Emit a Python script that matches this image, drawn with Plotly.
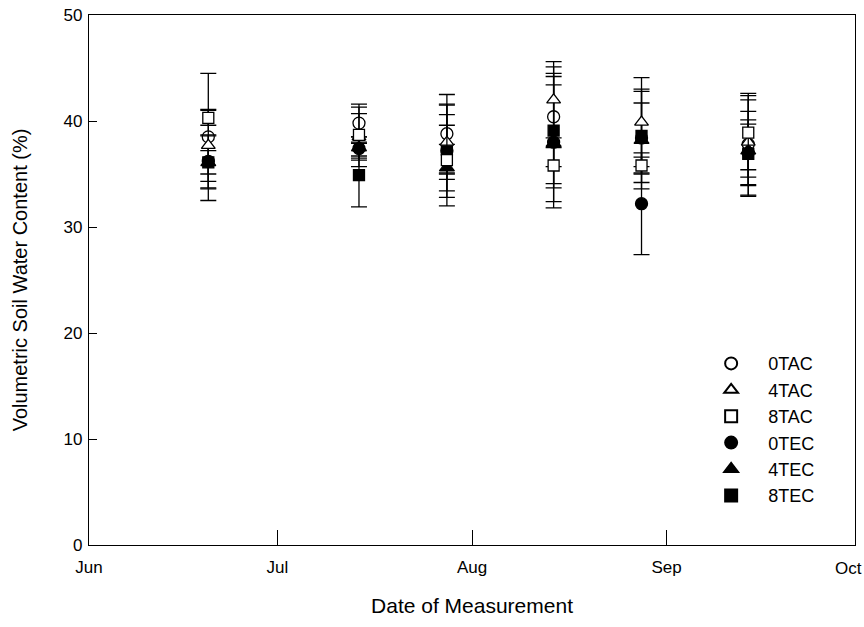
import plotly.graph_objects as go

dates = ["2000-06-20", "2000-07-14", "2000-07-28", "2000-08-14", "2000-08-28", "2000-09-14"]

series_names = ["0TAC", "4TAC", "8TAC", "0TEC", "4TEC", "8TEC"]
month_ticks = ["2000-06-01", "2000-07-01", "2000-08-01", "2000-09-01", "2000-10-01"]
month_labels = ["Jun", "Jul", "Aug", "Sep", "Oct"]

tac0_mean = [38.5, 39.8, 38.8, 40.4, 38.4, 37.8]
tac0_sd = [6.0, 1.8, 3.7, 4.7, 3.3, 4.8]
tac4_mean = [37.7, 38.5, 38.0, 42.0, 39.9, 38.0]
tac4_sd = [3.4, 2.8, 3.5, 3.6, 4.2, 4.0]
tac8_mean = [40.3, 38.7, 36.3, 35.8, 35.8, 38.9]
tac8_sd = [0.7, 2.0, 4.3, 1.7, 0.8, 3.5]
tec0_mean = [36.2, 37.4, 37.2, 38.0, 32.2, 37.0]
tec0_sd = [2.5, 1.1, 4.4, 6.2, 4.8, 3.1]
tec4_mean = [36.1, 37.5, 35.6, 37.9, 38.2, 37.2]
tec4_sd = [2.5, 1.0, 2.2, 5.5, 4.6, 2.5]
tec8_mean = [36.1, 34.9, 37.3, 39.1, 38.6, 36.9]
tec8_sd = [1.1, 3.0, 2.3, 5.4, 4.4, 4.0]

means = [tac0_mean, tac4_mean, tac8_mean, tec0_mean, tec4_mean, tec8_mean]
sds = [tac0_sd, tac4_sd, tac8_sd, tec0_sd, tec4_sd, tec8_sd]
symbols = ["circle", "triangle-up", "square", "circle", "triangle-up", "square"]
fills = ["white", "white", "white", "black", "black", "black"]
sizes = [12, 12, 11, 12, 13, 11]

# stacking order of the series (last drawn on top)
draw_order = [0, 3, 4, 5, 1, 2]

fig = go.Figure()
for i in draw_order:
    fig.add_trace(go.Scatter(
        x=dates, y=means[i], name=series_names[i], mode="markers",
        legendrank=i + 1,
        marker=dict(symbol=symbols[i], size=sizes[i], color=fills[i],
                    line=dict(color="black", width=1.3)),
        error_y=dict(type="data", array=sds[i], visible=True, color="black",
                     thickness=1.3, width=8),
    ))

font_family = "Liberation Sans, Arial, sans-serif"

# last month label sits at the right edge of the page: place it as an
# annotation nudged left so it stays inside the picture
tick_text_axis = month_labels[:-1] + [""]
fig.add_annotation(
    x=month_ticks[-1], xref="x", y=0, yref="paper",
    text=month_labels[-1], showarrow=False,
    xanchor="center", yanchor="top", xshift=-7, yshift=-12,
    font=dict(size=17, family=font_family, color="black"),
)

fig.update_layout(
    width=864, height=627,
    margin=dict(l=89, r=9, t=15, b=82),
    paper_bgcolor="white", plot_bgcolor="white",
    font=dict(family=font_family, color="black", size=16),
    showlegend=True,
    legend=dict(x=0.790, y=0.377, xanchor="left", yanchor="top",
                font=dict(size=18, family=font_family), bgcolor="rgba(0,0,0,0)",
                itemsizing="constant", itemwidth=64, tracegroupgap=0),
    xaxis=dict(
        type="date", range=["2000-06-01", "2000-10-01"],
        tickvals=month_ticks, ticktext=tick_text_axis,
        ticks="inside", ticklen=15, tickwidth=1, tickcolor="black",
        showline=True, linecolor="black", linewidth=1.3, mirror=True,
        showgrid=False, zeroline=False,
        ticklabelstandoff=6, automargin=False,
        title=dict(text="Date of Measurement", font=dict(size=21), standoff=22),
        tickfont=dict(size=17),
    ),
    yaxis=dict(
        range=[0, 50], tickvals=[0, 10, 20, 30, 40, 50],
        ticks="inside", ticklen=8, tickwidth=1, tickcolor="black",
        showline=True, linecolor="black", linewidth=1.3, mirror=True,
        showgrid=False, zeroline=False, ticklabelstandoff=2, automargin=False,
        title=dict(text="Volumetric Soil Water Content (%)", font=dict(size=20), standoff=30),
        tickfont=dict(size=17),
    ),
)

fig.write_html("out.html")
